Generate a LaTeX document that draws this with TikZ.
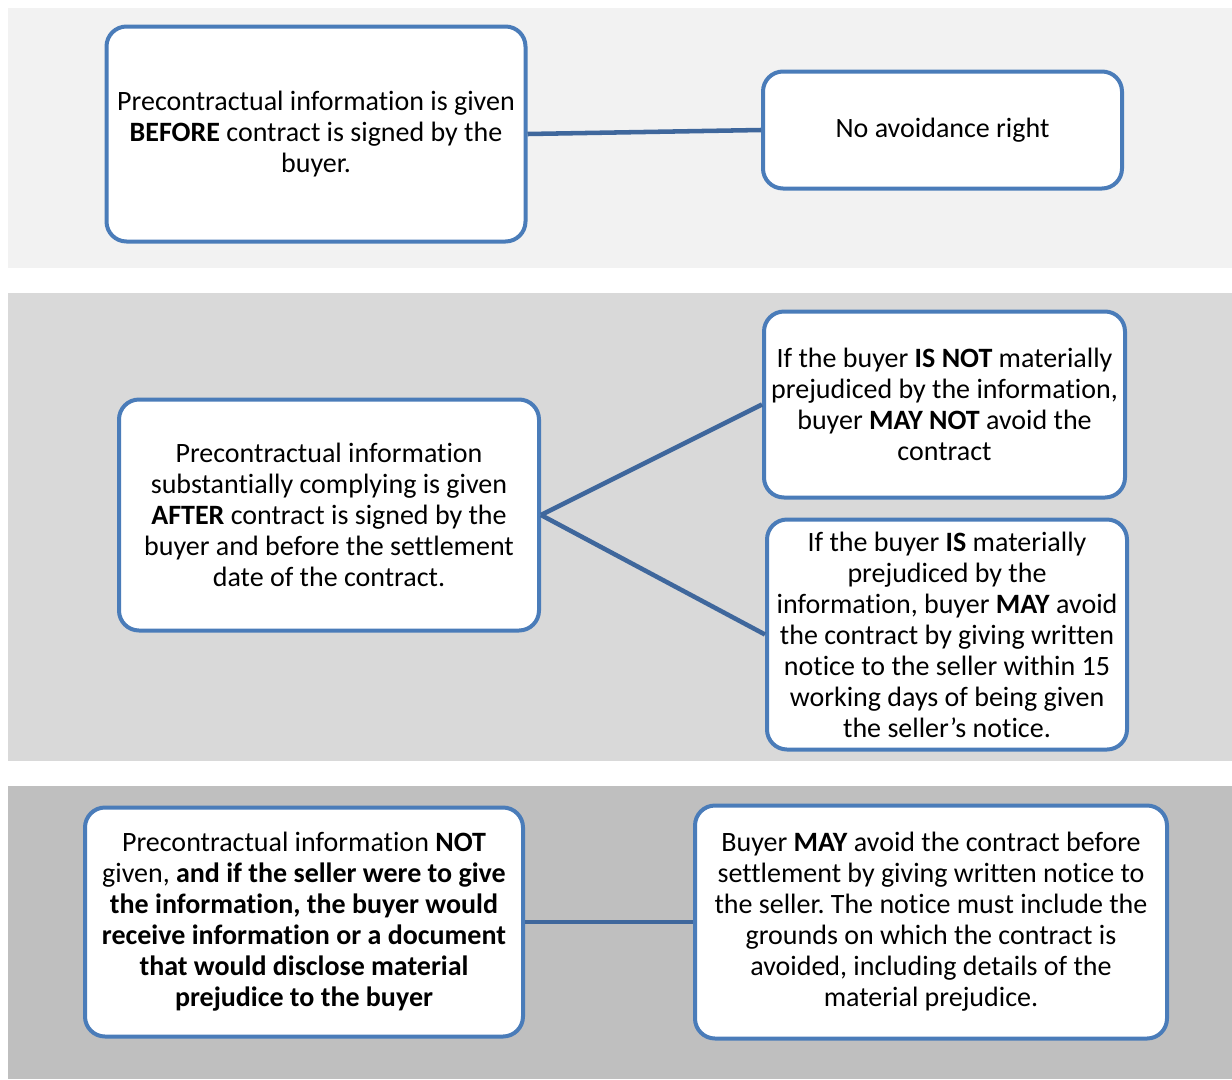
\documentclass[tikz,border=0pt]{standalone}
\usepackage{fontspec}
\setmainfont{Carlito}[Ligatures=NoCommon]
\usepackage{tikz}
\usetikzlibrary{positioning, calc, backgrounds}
\frenchspacing
\definecolor{Frame}{HTML}{4A7CB9}
\definecolor{Link} {HTML}{3F679C}
\definecolor{BandA}{HTML}{F2F2F2}
\definecolor{BandB}{HTML}{D9D9D9}
\definecolor{BandC}{HTML}{BFBFBF}
\tikzset{
  box/.style={draw=Frame, line width=3pt, rounded corners=15pt, fill=white,
              align=center, inner sep=0pt,
              font=\fontsize{21}{23.25}\selectfont},
  link/.style={draw=Link, line width=3.4pt}
}

\begin{document}
\begin{tikzpicture}[x=0.75pt, y=-0.75pt]
  \useasboundingbox (0,0) rectangle (1232,1079);
  % background bands
  \fill[BandA] (8,8)   rectangle (1232,268);
  \fill[BandB] (8,293) rectangle (1232,761);
  \fill[BandC] (8,786) rectangle (1232,1079);

  \node[box, minimum width=314.25pt, minimum height=161.25pt] (Before) at (316,134)
    {Precontractual information is given\\\textbf{BEFORE} contract is signed by the\\buyer.};
  \node[box, minimum width=269.25pt, minimum height=87.75pt] (NoRight) at (942.5,130)
    {No avoidance right};

  \node[box, minimum width=315pt, minimum height=173.25pt] (After) at (329,515)
    {Precontractual information\\substantially complying is given\\\textbf{AFTER} contract is signed by the\\buyer and before the settlement\\date of the contract.};
  \node[box, minimum width=270.75pt, minimum height=139.5pt] (NotPrej) at (944.5,404.5)
    {If the buyer \textbf{IS NOT} materially\\prejudiced by the information,\\buyer \textbf{MAY NOT} avoid the\\contract};
  \node[box, minimum width=270pt, minimum height=172.5pt] (Prej) at (947,634.5)
    {If the buyer \textbf{IS} materially\\prejudiced by the\\information, buyer \textbf{MAY} avoid\\the contract by giving written\\notice to the seller within 15\\working days of being given\\the seller’s notice.};

  \node[box, minimum width=328.5pt, minimum height=171.75pt] (NotGiven) at (304,922)
    {Precontractual information \textbf{NOT}\\given, \textbf{and if the seller were to give}\\\textbf{the information, the buyer would}\\\textbf{receive information or a document}\\\textbf{that would disclose material}\\\textbf{prejudice to the buyer}};
  \node[box, minimum width=354pt, minimum height=174.75pt] (MayAvoid) at (931,922)
    {Buyer \textbf{MAY} avoid the contract before\\settlement by giving written notice to\\the seller. The notice must include the\\grounds on which the contract is\\avoided, including details of the\\material prejudice.};

  \draw[link] (Before.east) -- (NoRight.west);
  \draw[link] (After.east) -- (NotPrej.west);
  \draw[link] (After.east) -- (Prej.west);
  \draw[link] (NotGiven.east) -- (MayAvoid.west);
\end{tikzpicture}
\end{document}
